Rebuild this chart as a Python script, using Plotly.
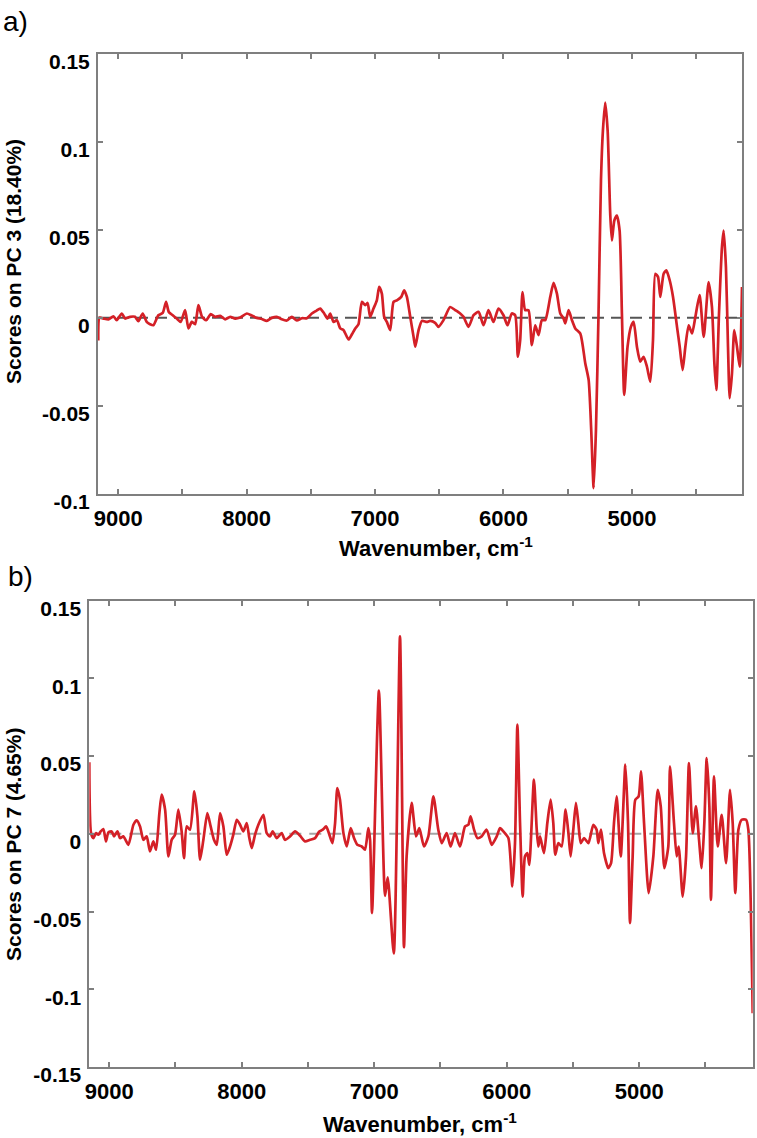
import plotly.graph_objects as go

# panel a) PC 3 scores
wn_a = [9155, 9145, 9115, 9076, 9037, 9011, 8972, 8946, 8907, 8869, 8843, 8809, 8778, 8752, 8726,
        8687, 8653, 8627, 8606, 8575, 8544, 8513, 8479, 8453, 8427, 8401, 8375, 8347, 8315, 8279,
        8245, 8206, 8167, 8128, 8089, 8050, 7998, 7960, 7921, 7882, 7843, 7804, 7765, 7726, 7687,
        7648, 7609, 7570, 7531, 7492, 7458, 7427, 7396, 7370, 7349, 7323, 7297, 7271, 7245, 7206,
        7180, 7154, 7129, 7102, 7076, 7058, 7038, 7012, 6986, 6968, 6947, 6929, 6908, 6882, 6856,
        6830, 6796, 6773, 6752, 6726, 6700, 6687, 6661, 6635, 6596,
        6571, 6532, 6506, 6467, 6415, 6376, 6337, 6311, 6272, 6233, 6194, 6155, 6117, 6078, 6039,
        6000, 5969, 5935, 5909, 5888, 5870, 5852, 5831, 5805, 5779, 5753, 5727, 5701, 5675, 5636,
        5610, 5584, 5558, 5532, 5519, 5493, 5467, 5441, 5402, 5363, 5337, 5317, 5298, 5280, 5260,
        5241, 5226, 5208, 5189, 5169, 5156, 5137, 5117, 5096, 5078, 5060, 5034, 5008, 4987, 4961,
        4935, 4909, 4883, 4857, 4836, 4818, 4797, 4779, 4753, 4732, 4706, 4680, 4649, 4628, 4605,
        4584, 4558, 4532, 4506, 4473, 4441, 4403, 4377, 4358, 4343, 4322, 4299, 4286, 4268, 4252,
        4239, 4221, 4203, 4182, 4161, 4143]
pc3 = [-0.013, 0.0, -0.0005, -0.001, 0.0008, -0.0014, 0.0024, -0.0005, 0.0005, 0.0005, -0.002,
       0.0024, -0.0024, -0.0037, -0.0043, 0.0014, 0.0027, 0.009, 0.0033, 0.0014, -0.0005, -0.0024,
       0.0043, -0.0061, -0.0024, -0.0037, 0.0071, 0.0005, -0.0014, 0.002, 0.0005, 0.001, -0.0009,
       0.0005, -0.0005, 0.0001, 0.0024, 0.0012, -0.0001, -0.0007, -0.0018, -0.0001, 0.0005, -0.0009,
       -0.0016, 0.0005, -0.0016, -0.0003, -0.0003, 0.0024, 0.0039, 0.0052, 0.0024, -0.0005, 0.0024,
       -0.0024, -0.0014, -0.0061, -0.0071, -0.0124, -0.0094, -0.0061, -0.0037, 0.009, 0.0071, 0.0084,
       0.0005, 0.0052, 0.0099, 0.0175, 0.0137, 0.0005, -0.0024, -0.0071, 0.009, 0.0099, 0.0118,
       0.0156, 0.0118, 0.0005, -0.0109, -0.0165, -0.0071, -0.0018, -0.0024,
       -0.0018, -0.0029, -0.0052, -0.0014, 0.0061, 0.0043, 0.0024, 0.0005, -0.0052, 0.0014, 0.0033,
       -0.0043, 0.0043, -0.0024, 0.0052, 0.0014, -0.0043, 0.0024, 0.0014, -0.0222, -0.0128, 0.0146,
       0.0043, 0.0043, -0.0156, -0.0043, -0.0099, -0.0014, -0.0014, 0.0118, 0.0198, 0.0137, 0.0024,
       -0.0005, -0.0033, 0.0043, -0.0014, -0.0061, -0.009, -0.026, -0.0354, -0.0638, -0.0969,
       -0.0638, 0.0024, 0.078, 0.1063, 0.1224, 0.1063, 0.0591, 0.0439, 0.0553, 0.0581, 0.0496,
       0.0024, -0.0439, -0.0165, -0.0052, -0.0024, -0.0165, -0.025, -0.0222, -0.0279, -0.0364,
       -0.0128, 0.025, 0.0232, 0.0118, 0.025, 0.0269, 0.0213, 0.0118, -0.0052, -0.0165, -0.0298,
       -0.0165, -0.0043, -0.009, 0.0005, 0.0128, -0.0109, 0.0203, 0.0061, -0.026, -0.0411, 0.0024,
       0.0402, 0.0496, 0.0288, -0.0165, -0.0458, -0.0317, -0.0071, -0.0165, -0.0279, 0.0175]

# panel b) PC 7 scores
wn_b = [9150, 9137, 9119, 9099, 9082, 9064, 9044, 9024, 9006, 8981, 8963, 8938, 8918, 8893, 8855,
        8817, 8792, 8767, 8742, 8717, 8692, 8667, 8646, 8621, 8604, 8578, 8553, 8528, 8503, 8478,
        8453, 8435, 8415, 8390, 8357, 8334, 8314, 8289, 8259, 8234, 8209, 8188, 8163, 8138, 8113,
        8088, 8063, 8037, 8012, 7987, 7962, 7942, 7924, 7899, 7874, 7836, 7811, 7786, 7766, 7736,
        7698, 7673, 7635, 7597, 7559, 7522, 7484, 7446, 7414, 7388, 7363, 7346, 7315, 7295, 7278,
        7258, 7232, 7207, 7177, 7152, 7127, 7094, 7069, 7044, 7031, 7016, 6964, 6918, 6898, 6852,
        6805, 6775, 6755, 6717, 6684, 6659, 6624, 6591, 6553, 6516, 6490, 6453, 6423, 6390, 6352,
        6314, 6289, 6272, 6246, 6221, 6189, 6151, 6113, 6075, 6050, 6025, 5987, 5957, 5937, 5919,
        5899, 5879, 5862, 5844, 5829, 5794, 5773, 5761, 5748, 5718, 5693, 5668, 5648, 5633, 5610,
        5585, 5555, 5534, 5517, 5497, 5477, 5459, 5441, 5416, 5383, 5346, 5321, 5308, 5288, 5265,
        5233, 5212, 5190, 5170, 5139, 5104, 5084, 5069, 5049, 5029, 5004, 4986, 4963, 4928, 4893,
        4860, 4837, 4810, 4780, 4767, 4737, 4717, 4702, 4671, 4646, 4624, 4596, 4571, 4548, 4528,
        4508, 4490, 4470, 4458, 4435, 4407, 4377, 4344, 4314, 4294, 4274, 4251, 4226, 4193, 4176,
        4143]
pc7 = [0.046, 0.0004, -0.0028, 0.0004, -0.0006, 0.0015, 0.003, -0.0049, 0.0009, 0.0015, -0.0017,
       0.0015, -0.0028, -0.0017, -0.0071, 0.0058, 0.0086, 0.0047, -0.0039, -0.0017, -0.0114, -0.0049,
       -0.0103, 0.0133, 0.0251, 0.0155, -0.0146, -0.0039, -0.0006, 0.0155, 0.0015, -0.0157, 0.0047,
       0.0026, 0.0273, 0.0112, -0.0167, -0.0039, 0.0133, 0.0047, -0.0039, -0.0071, 0.0133, 0.0047,
       -0.0135, -0.0082, -0.0006, 0.009, 0.0058, 0.0015, 0.0069, -0.0028, -0.0092, -0.0006, 0.0058,
       0.0122, 0.0004, -0.0017, 0.0015, -0.0028, 0.0004, -0.0039, -0.0017, 0.0015, -0.0013, -0.0049,
       -0.0039, -0.0028, 0.0015, 0.0026, 0.0047, 0.0015, -0.006, 0.0069, 0.0294, 0.0219, 0.0004,
       -0.0082, 0.0036, -0.0028, -0.0071, -0.0082, -0.0103, 0.0036, -0.0039, -0.051, 0.092, -0.040,
       -0.028, -0.077, 0.127, -0.073, -0.0146, 0.0198, -0.0017, 0.0036, -0.0082, -0.0017, 0.024,
       0.0026, -0.006, 0.0004, -0.0082, 0.0004, -0.0082, 0.0047, 0.0058, 0.0112, 0.0026, -0.0028,
       -0.0017, 0.0026, -0.0071, -0.0017, 0.0036, 0.0015, -0.0028, -0.0339, -0.006, 0.0702, 0.0069,
       -0.0404, -0.0146, -0.0125, -0.02, 0.0348, 0.0026, -0.0082, -0.0017, -0.0125, 0.0069, 0.0219,
       0.0069, -0.0135, -0.006, -0.0082, 0.0155, 0.0004, -0.0146, 0.0026, 0.0198, 0.0069, -0.006,
       -0.0028, -0.006, 0.0058, 0.0026, -0.006, 0.0026, -0.0125, -0.0221, -0.0189, 0.0069, 0.024,
       -0.0146, 0.0444, 0.0069, -0.0575, -0.0146, 0.0219, 0.024, 0.0401, 0.0069, -0.0382, -0.0146,
       0.0283, 0.0176, -0.0221, -0.0082, 0.0434, 0.0069, -0.0146, -0.0082, -0.0404, -0.0146, 0.0455,
       0.0004, 0.0176, -0.0039, -0.0221, 0.0069, 0.0487, 0.0176, -0.0425, 0.0369, -0.0082, 0.0122,
       -0.0189, 0.0283, 0.0069, -0.0382, 0.0026, 0.009, 0.009, 0.0026, -0.1155]

y_ticks_a = [0.15, 0.1, 0.05, 0, -0.05, -0.1]
y_text_a = ['0.15', '0.1', '0.05', '0', '-0.05', '-0.1']
y_ticks_b = [0.15, 0.1, 0.05, 0, -0.05, -0.1, -0.15]
y_text_b = ['0.15', '0.1', '0.05', '0', '-0.05', '-0.1', '-0.15']

assert len(wn_a) == len(pc3) and len(wn_b) == len(pc7)

W, H = 757, 1138
RED = '#d42027'
FRAME = '#7f7f7f'
FONT = 'Liberation Sans, Arial, sans-serif'


def fx(p):
    return p / W


def fy(p):
    return 1 - p / H


fig = go.Figure()
fig.add_trace(go.Scatter(x=wn_a, y=pc3, mode='lines', xaxis='x', yaxis='y',
                         line=dict(color=RED, width=2.7, shape='spline', smoothing=0.6)))
fig.add_trace(go.Scatter(x=wn_b, y=pc7, mode='lines', xaxis='x2', yaxis='y2',
                         line=dict(color=RED, width=2.7, shape='spline', smoothing=0.6)))

common = dict(showline=True, linecolor=FRAME, linewidth=2, mirror='ticks', ticks='inside',
              ticklen=5, tickwidth=1.5, tickcolor=FRAME, showgrid=False, zeroline=False,
              fixedrange=True)
xcommon = dict(common, tickmode='linear', tick0=0, dtick=1000,
               minor=dict(dtick=500, tick0=0, ticks='inside', ticklen=5, tickwidth=1.5,
                          tickcolor=FRAME, showgrid=False),
               tickfont=dict(family=FONT, size=22, color='black', weight='bold'),
               ticklabelstandoff=4)
# labels sit a little below their ticks in the original
ycommon = dict(common, tickmode='array',
               tickfont=dict(family=FONT, size=21, color='black', weight='bold'),
               ticklabelstandoff=2, ticklabelshift=8)

fig.update_layout(
    width=W, height=H, margin=dict(l=0, r=0, t=0, b=0, autoexpand=False),
    paper_bgcolor='white', plot_bgcolor='white', showlegend=False,
    xaxis=dict(xcommon, domain=[fx(98), fx(742)], range=[9157, 4143], anchor='y'),
    yaxis=dict(ycommon, domain=[fy(493.5), fy(54)], range=[-0.1, 0.15], anchor='x',
               tickvals=y_ticks_a, ticktext=y_text_a),
    xaxis2=dict(xcommon, domain=[fx(89.3), fx(752.7)], range=[9150, 4143], anchor='y2'),
    yaxis2=dict(ycommon, domain=[fy(1067), fy(600.5)], range=[-0.15, 0.15], anchor='x2',
                tickvals=y_ticks_b, ticktext=y_text_b),
)

# dashed zero lines
fig.add_shape(type='line', xref='x domain', yref='y', x0=0, x1=1, y0=0, y1=0, layer='below',
              line=dict(color='#555555', width=2, dash='12px,7px'))
fig.add_shape(type='line', xref='x2 domain', yref='y2', x0=0, x1=1, y0=0, y1=0, layer='below',
              line=dict(color='#a5a5a5', width=2, dash='12px,8px'))

bold = dict(family=FONT, size=22, color='black', weight='bold')
notes = [
    dict(text='a)', x=fx(15.5), y=fy(22), font=dict(family=FONT, size=28, color='black')),
    dict(text='b)', x=fx(20), y=fy(577), font=dict(family=FONT, size=28, color='black')),
    dict(text='Wavenumber, cm<sup>-1</sup>', x=fx(436), y=fy(547), font=bold),
    dict(text='Wavenumber, cm<sup>-1</sup>', x=fx(420), y=fy(1123), font=bold),
    dict(text='Scores on PC 3 (18.40%)', x=fx(13), y=fy(262), textangle=-90,
         font=dict(bold, size=21)),
    dict(text='Scores on PC 7 (4.65%)', x=fx(13), y=fy(845), textangle=-90,
         font=dict(bold, size=21)),
]
for n in notes:
    fig.add_annotation(xref='paper', yref='paper', showarrow=False,
                       xanchor='center', yanchor='middle', **n)

fig.write_html("out.html", config={'displayModeBar': False},
               post_script="document.body.style.margin='0';document.body.style.overflow='hidden';")
